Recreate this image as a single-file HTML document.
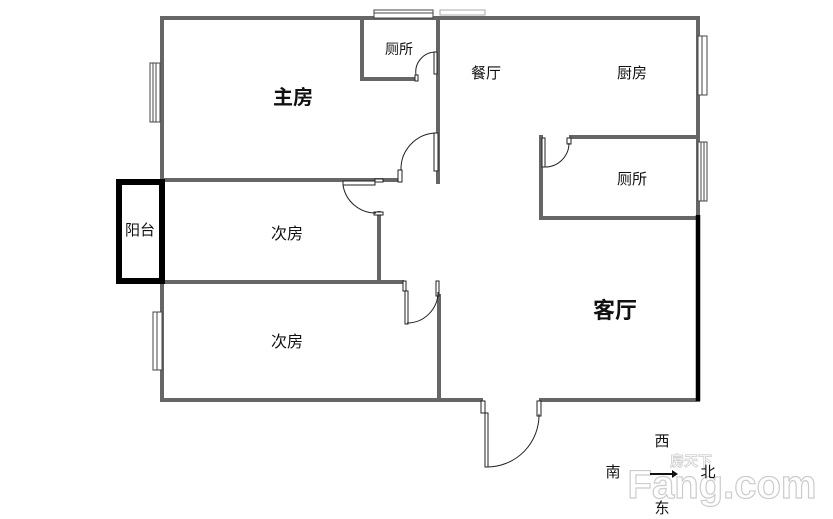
<!DOCTYPE html>
<html><head><meta charset="utf-8"><style>
body{margin:0;background:#fff;}
svg{display:block}
text{font-family:"Liberation Sans","Noto Sans CJK SC",sans-serif;fill:#111}
</style></head><body>
<svg width="833" height="519" viewBox="0 0 833 519" xmlns="http://www.w3.org/2000/svg">
<g stroke="#666" stroke-width="4" fill="none" stroke-linecap="square">
<line x1="162" y1="18" x2="698" y2="18"/>
<line x1="162" y1="18" x2="162" y2="400"/>
<line x1="698" y1="18" x2="698" y2="215"/>
<line x1="362" y1="18" x2="362" y2="79"/>
<line x1="362" y1="79" x2="415" y2="79"/>
<line x1="438" y1="18" x2="438" y2="182"/>
<line x1="162" y1="180" x2="400" y2="180"/>
<line x1="379" y1="213" x2="379" y2="282"/>
<line x1="162" y1="282" x2="402" y2="282"/>
<line x1="439" y1="296" x2="439" y2="400"/>
<line x1="162" y1="400" x2="481" y2="400"/>
<line x1="541" y1="400" x2="698" y2="400"/>
<line x1="571" y1="137" x2="698" y2="137"/>
<line x1="541" y1="137" x2="541" y2="218"/>
<line x1="541" y1="218" x2="698" y2="218"/>
</g>
<line x1="698" y1="215" x2="698" y2="401" stroke="#000" stroke-width="4.5"/>
<rect x="119" y="182" width="43" height="99" fill="none" stroke="#000" stroke-width="6"/>
<g fill="#fff" stroke="#444" stroke-width="1">
<rect x="150" y="63" width="10" height="59"/>
<line x1="153" y1="63" x2="153" y2="122"/><line x1="156" y1="63" x2="156" y2="122"/>
<rect x="153" y="312" width="9" height="58"/>
<line x1="157" y1="312" x2="157" y2="370"/>
<rect x="374" y="10" width="59" height="8"/>
<line x1="374" y1="13" x2="433" y2="13"/>
<rect x="440" y="10" width="45" height="5" stroke="#aaa"/>
<rect x="698" y="36" width="9" height="59"/>
<line x1="702" y1="36" x2="702" y2="95"/>
<rect x="698" y="142" width="9" height="59"/>
<line x1="701" y1="142" x2="701" y2="201"/><line x1="704" y1="142" x2="704" y2="201"/>
</g>
<g fill="#fff" stroke="#222" stroke-width="1">
<rect x="415" y="75" width="3" height="6"/>
<rect x="434" y="52" width="3" height="22"/>
<path d="M416 75 A20 20 0 0 1 436 52" fill="none"/>
<rect x="398" y="170" width="4" height="12"/>
<rect x="434" y="133" width="4" height="38"/>
<path d="M401 170 A36 36 0 0 1 436 133" fill="none"/>
<rect x="343" y="181" width="32" height="4"/>
<rect x="375" y="179" width="8" height="3"/>
<rect x="374" y="212" width="9" height="3"/>
<path d="M343 185 A33 33 0 0 0 376 213" fill="none"/>
<rect x="403" y="281" width="3" height="10"/>
<rect x="405" y="291" width="3" height="33"/>
<rect x="436" y="281" width="3" height="15"/>
<path d="M407 323 A31 31 0 0 0 438 292" fill="none"/>
<rect x="542" y="138" width="3" height="29"/>
<rect x="567" y="138" width="4" height="6"/>
<path d="M545 167 A24 24 0 0 0 569 143" fill="none"/>
<rect x="481" y="401" width="4" height="12"/>
<rect x="485" y="413" width="3" height="54"/>
<rect x="537" y="401" width="4" height="15"/>
<path d="M487 467 A52 52 0 0 0 539 414" fill="none"/>
</g>
<text x="293" y="104" font-size="20" font-weight="bold" text-anchor="middle">主房</text>
<text x="399" y="54" font-size="14" text-anchor="middle">厕所</text>
<text x="486" y="78" font-size="15" text-anchor="middle">餐厅</text>
<text x="632" y="78" font-size="15" text-anchor="middle">厨房</text>
<text x="632" y="184" font-size="15" text-anchor="middle">厕所</text>
<text x="140" y="235" font-size="15" text-anchor="middle">阳台</text>
<text x="287" y="239" font-size="16" text-anchor="middle">次房</text>
<text x="287" y="347" font-size="16" text-anchor="middle">次房</text>
<text x="615" y="318" font-size="22" font-weight="bold" text-anchor="middle">客厅</text>
<text x="662" y="446" font-size="15" text-anchor="middle">西</text>
<text x="613" y="477" font-size="15" text-anchor="middle">南</text>
<text x="662" y="513" font-size="15" text-anchor="middle">东</text>
<text x="722" y="498" font-size="40" font-weight="bold" text-anchor="middle" style="fill:#fff;stroke:#ccc;stroke-width:1.2">Fang.com</text>
<text x="670" y="466" font-size="14" font-weight="bold" style="fill:#fff;stroke:#ccc;stroke-width:0.8">房天下</text>
<text x="708" y="477" font-size="15" text-anchor="middle">北</text>
<line x1="650" y1="474" x2="672" y2="474" stroke="#111" stroke-width="2"/>
<path d="M672 470 L678 474 L672 478 Z" fill="#111"/>
</svg>
</body></html>
